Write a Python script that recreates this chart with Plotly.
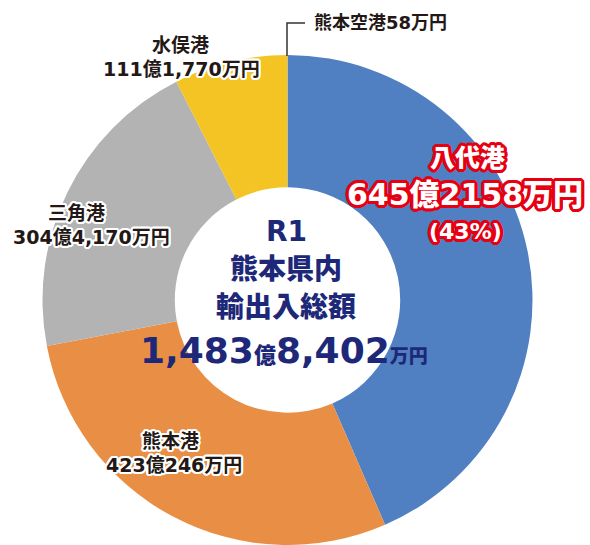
import plotly.graph_objects as go

W, H = 590, 545

# ---- data ----
ports = ["八代港", "熊本港", "三角港", "水俣港", "熊本空港"]
values_oku = [645.2158, 423.0246, 304.4170, 111.1770, 0.0058]  # 億円
amount_labels = ["645億2158万円", "423億246万円", "304億4,170万円", "111億1,770万円", "58万円"]
share_label = "(43%)"
center_lines = ["R1", "熊本県内", "輸出入総額"]
total_label = ("1,483", "億", "8,402", "万円")
colors = ["#5080C2", "#E98F45", "#B3B3B3", "#F4C425", "#3A3A3A"]

FONT = "DejaVu Sans, Noto Sans CJK JP"
NAVY = "#1D2878"
DARK = "#231815"
RED = "#E60012"


def px(x):
    return x / W


def py(y):
    return 1 - y / H


def halo(color, r):
    pts = []
    for dx in range(-r, r + 1):
        for dy in range(-r, r + 1):
            if dx == 0 and dy == 0:
                continue
            if dx * dx + dy * dy <= r * r + 1:
                pts.append(f"{color} {dx}px {dy}px 0px")
    return ", ".join(pts)


fig = go.Figure()
fig.add_trace(go.Pie(
    labels=ports,
    values=values_oku,
    marker=dict(colors=colors, line=dict(width=0)),
    hole=0.46,
    sort=False,
    direction="clockwise",
    rotation=0,
    textinfo="none",
    hoverinfo="label+value",
    showlegend=False,
    domain=dict(x=[px(287.5 - 245), px(287.5 + 245)], y=[0, 490 / H]),
))

annos = []
white_halo = halo("white", 2)
red_halo = halo(RED, 3)


def lab(x, y, text, size, color=DARK, shadow=white_halo, weight="bold", anchor="center"):
    annos.append(dict(
        x=px(x), y=py(y), xref="paper", yref="paper", text=text,
        showarrow=False, xanchor=anchor, yanchor="middle",
        font=dict(family=FONT, size=size, color=color, shadow=shadow, weight=weight),
    ))


# small port labels
lab(180, 45, ports[3], 19)
lab(181, 69, amount_labels[3], 19)
lab(76, 213, ports[2], 19)
lab(91, 237, amount_labels[2], 19)
lab(170, 441, ports[1], 19)
lab(174, 465, amount_labels[1], 19)
lab(312, 22, ports[4] + amount_labels[4], 18, anchor="left")

# Yatsushiro big label
lab(467, 158, ports[0], 25, color="white", shadow=red_halo, weight=900)
lab(465, 194, amount_labels[0], 30, color="white", shadow=red_halo, weight=900)
lab(465, 231, share_label, 22, color="white", shadow=red_halo, weight=900)

# center
lab(286, 231, center_lines[0], 28, color=NAVY, shadow="none", weight=900)
lab(286, 269, center_lines[1], 28, color=NAVY, shadow="none", weight=900)
lab(286, 307, center_lines[2], 28, color=NAVY, shadow="none", weight=900)
total_txt = (f"{total_label[0]}<span style='font-size:22px'>{total_label[1]}</span>"
             f"{total_label[2]}<span style='font-size:19px'>{total_label[3]}</span>")
lab(284, 350, total_txt, 36, color=NAVY, shadow="none", weight=900)

fig.update_layout(
    width=W, height=H,
    margin=dict(l=0, r=0, t=0, b=0),
    paper_bgcolor="white", plot_bgcolor="white",
    annotations=annos,
    shapes=[dict(
        type="path", xref="paper", yref="paper",
        path=f"M {px(287)} {py(56)} L {px(287)} {py(23)} L {px(305)} {py(23)}",
        line=dict(color="#333333", width=1.5),
    )],
)

fig.write_html("out.html", config={"displayModeBar": False},
               post_script="document.body.style.margin='0';")
